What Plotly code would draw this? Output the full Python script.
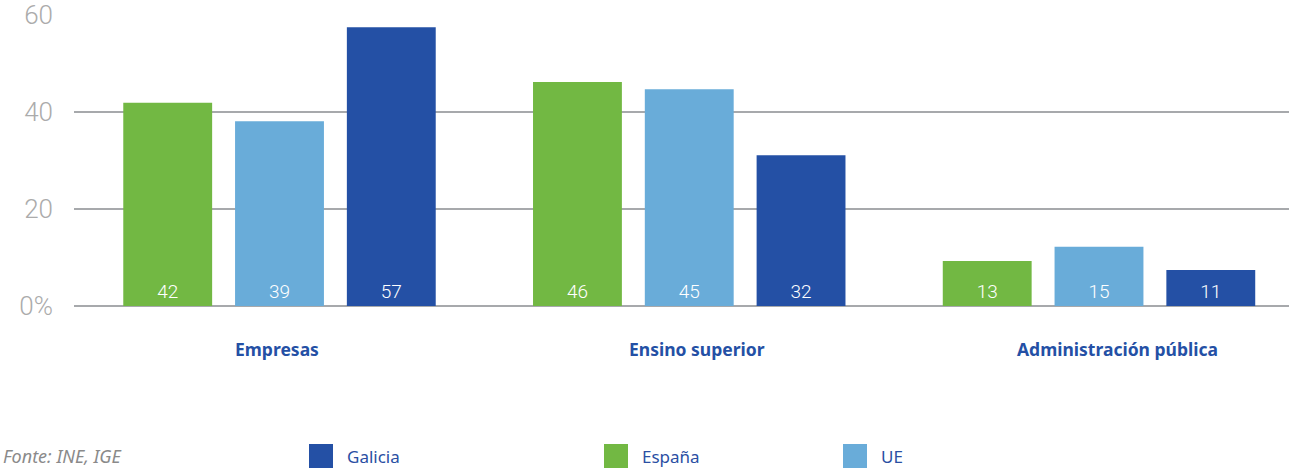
import plotly.graph_objects as go

categories = ["Empresas", "Ensino superior", "Administración pública"]
series_names = ["España", "UE", "Galicia"]
espana_vals = [41.9, 46.2, 9.3]
ue_vals = [38.1, 44.7, 12.2]
galicia_vals = [57.5, 31.1, 7.4]
espana_labels = ["42", "46", "13"]
ue_labels = ["39", "45", "15"]
galicia_labels = ["57", "32", "11"]
y_tickvals = [0, 20, 40, 60]
y_ticktext = ["0%", "20", "40", "60"]
legend_order = ["Galicia", "España", "UE"]
source_text = "Fonte: INE, IGE"

colors = {"España": "#72b843", "UE": "#69acd9", "Galicia": "#2450a5"}
values = {"España": espana_vals, "UE": ue_vals, "Galicia": galicia_vals}
labels = {"España": espana_labels, "UE": ue_labels, "Galicia": galicia_labels}

W, H = 1289, 468
ML, MR, MT, MB = 74, 0, 15, 162
PW, PH = W - ML - MR, H - MT - MB
UNIT = 409.75
X0 = -(279.5 - ML) / UNIT

fig = go.Figure()
for name in series_names:
    fig.add_trace(go.Bar(
        x=categories, y=values[name], name=name,
        marker=dict(color=colors[name], line=dict(width=0)),
        text=labels[name], textposition="inside", insidetextanchor="start",
        textangle=0, constraintext="none",
        textfont=dict(color="white", size=19, family="Roboto", weight=300),
        showlegend=False, hoverinfo="x+y+name",
    ))

def px_x(px):
    return (px - ML) / PW

def px_y(py):
    return (MT + PH - py) / PH

shapes = []
annotations = []
legend_sq_x = [309, 604, 843]
for name, sx in zip(legend_order, legend_sq_x):
    shapes.append(dict(type="rect", xref="paper", yref="paper",
                       x0=px_x(sx), x1=px_x(sx + 24), y0=px_y(468), y1=px_y(444),
                       fillcolor=colors[name], line=dict(width=0)))
    annotations.append(dict(xref="paper", yref="paper", x=px_x(sx + 36), y=px_y(456),
                            text=name, showarrow=False, xanchor="left", yanchor="middle",
                            font=dict(family="Noto Sans", size=17, color="#2a4fa3")))
annotations.append(dict(xref="paper", yref="paper", x=px_x(1), y=px_y(456),
                        text="<i>" + source_text + "</i>", showarrow=False,
                        xanchor="left", yanchor="middle",
                        font=dict(family="Noto Sans", size=18, color="#8a8a8a")))

# category labels (slightly offset from group centres as in the original)
cat_shift = [-2.5, 7.5, 18]
for cat, sh in zip(categories, cat_shift):
    annotations.append(dict(xref="x", yref="paper", x=cat, y=px_y(349), xshift=sh,
                            text="<b>" + cat + "</b>", showarrow=False,
                            xanchor="center", yanchor="middle",
                            font=dict(family="Noto Sans", size=17.5, color="#2450a5")))

fig.update_layout(
    width=W, height=H,
    margin=dict(l=ML, r=MR, t=MT, b=MB),
    paper_bgcolor="white", plot_bgcolor="white",
    barmode="group", bargap=0.1815, bargroupgap=0.205,
    shapes=shapes, annotations=annotations,
    showlegend=False,
    xaxis=dict(type="category", range=[X0, X0 + PW / UNIT],
               showgrid=False, showline=False, zeroline=False, ticks="",
               showticklabels=False),
    yaxis=dict(range=[0, 60], tickvals=y_tickvals, ticktext=y_ticktext,
               showgrid=True, gridcolor="#a7a9ac", gridwidth=2,
               zeroline=True, zerolinecolor="#a7a9ac", zerolinewidth=2,
               showline=False, ticks="", ticklabelstandoff=20,
               tickfont=dict(family="Roboto", size=26, color="#ababab", weight=300)),
)

fig.write_html("out.html", config={"displayModeBar": False},
               post_script="document.body.style.margin='0';document.body.style.overflow='hidden';")
